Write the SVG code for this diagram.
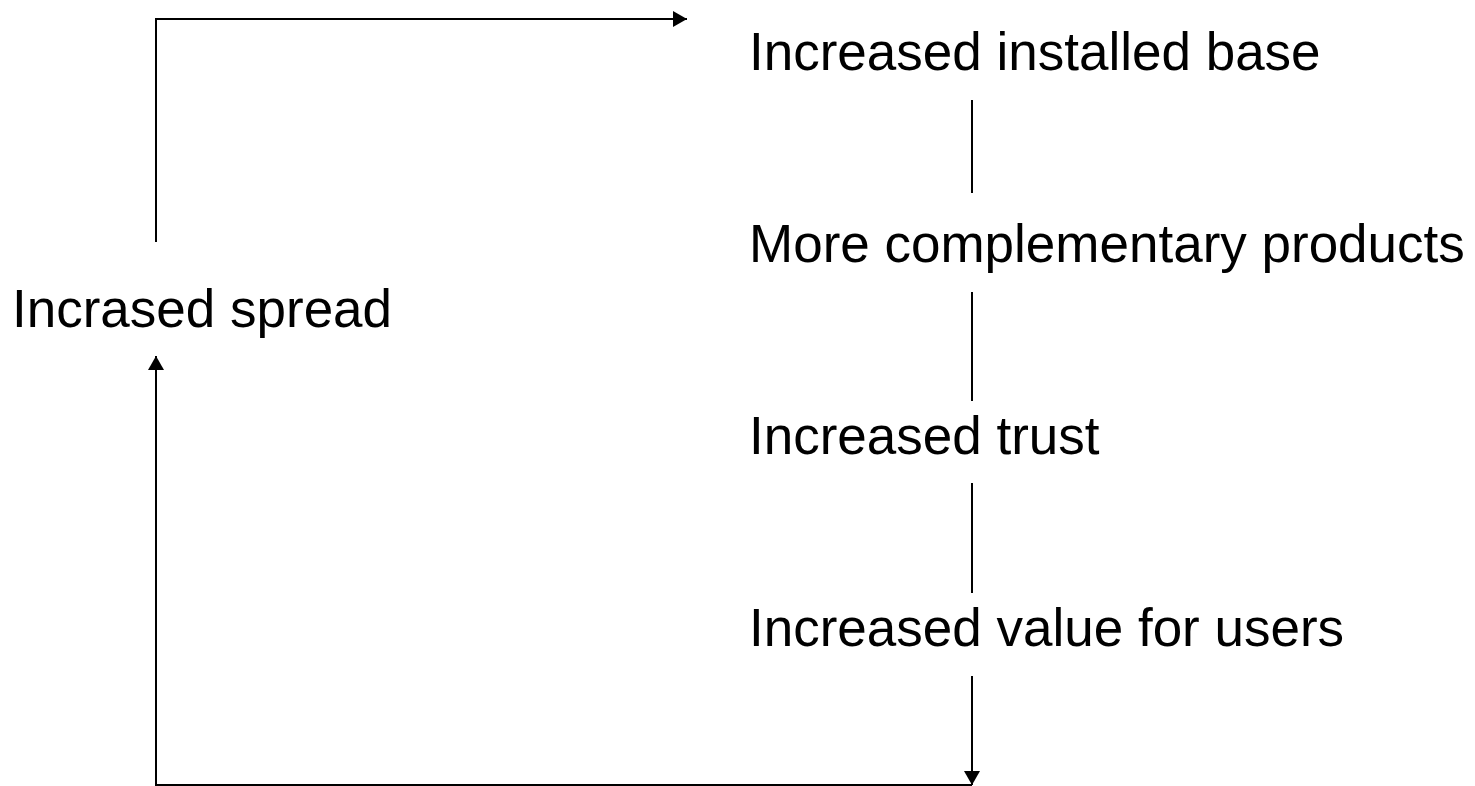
<svg xmlns="http://www.w3.org/2000/svg" width="1475" height="786" viewBox="0 0 1475 786">
<style>
.t{font-family:"Liberation Sans",Arial,sans-serif;font-size:53px;fill:#000}
.c{stroke:#000;stroke-width:2;fill:none}
</style>
<defs>
<marker id="ah" markerWidth="8" markerHeight="8" refX="7" refY="4" orient="auto" markerUnits="strokeWidth"><path d="M0,0 L7,4 L0,8 Z" fill="#000"/></marker>
</defs>
<rect width="1475" height="786" fill="#fff"/>
<g id="connectors">
<path class="c" d="M156,242 V19 H687" marker-end="url(#ah)"/>
<line class="c" x1="972" y1="100" x2="972" y2="193"/>
<line class="c" x1="972" y1="292" x2="972" y2="401"/>
<line class="c" x1="972" y1="483" x2="972" y2="593"/>
<line class="c" x1="972" y1="676" x2="972" y2="785" marker-end="url(#ah)"/>
<path class="c" d="M972,785 H156 V356" marker-end="url(#ah)"/>
</g>
<g id="n-installed"><text class="t" x="749" y="70">Increased installed base</text></g>
<g id="n-complementary"><text class="t" x="749" y="262">More complementary products</text></g>
<g id="n-trust"><text class="t" x="749" y="454">Increased trust</text></g>
<g id="n-value"><text class="t" x="749" y="646">Increased value for users</text></g>
<g id="n-spread"><text class="t" x="12" y="327">Incrased spread</text></g>
</svg>
